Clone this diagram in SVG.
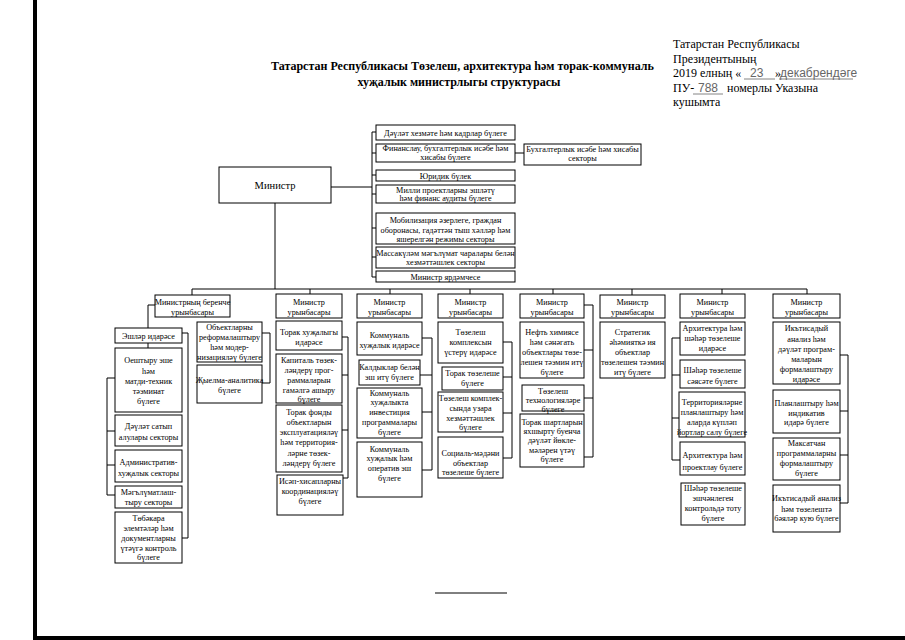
<svg xmlns="http://www.w3.org/2000/svg" width="905" height="640" viewBox="0 0 905 640">
<style>
.bx{fill:#fff;stroke:#000;stroke-width:1}
.t{font-family:"Liberation Serif","Times New Roman",serif;font-size:8.2px;text-anchor:middle;fill:#000}
.ln{fill:none;stroke:#000;stroke-width:1}
.hd{font-family:"Liberation Serif","Times New Roman",serif;font-size:12px;fill:#000}
.hw{font-family:"Liberation Sans",Arial,sans-serif;font-size:12px;fill:#666}
.ti{font-family:"Liberation Serif","Times New Roman",serif;font-size:12px;font-weight:bold;fill:#000}
</style>
<rect width="905" height="640" fill="#fff"/>
<rect x="33" y="0" width="4" height="640" fill="#000"/>
<rect x="33" y="636" width="872" height="4" fill="#000"/>
<line x1="435" y1="593" x2="507" y2="593" stroke="#000" stroke-width="1"/>

<g id="title">
<text class="ti" x="271" y="70">Татарстан Республикасы Төзелеш, архитектура һәм торак-коммуналь</text>
<text class="ti" x="459" y="86" text-anchor="middle">хуҗалык министрлыгы структурасы</text>
</g>
<g id="annex">
<text class="hd" x="673" y="48">Татарстан Республикасы</text>
<text class="hd" x="673" y="63">Президентының</text>
<text class="hd" x="673" y="77">2019 елның «</text>
<text class="hw" x="750" y="77">23</text>
<text class="hd" x="775" y="77">»</text>
<text class="hw" x="780" y="77">декабрендәге</text>
<line x1="744" y1="79" x2="775" y2="79" stroke="#666" stroke-width="0.8"/>
<line x1="779" y1="79" x2="853" y2="79" stroke="#666" stroke-width="0.8"/>
<text class="hd" x="673" y="92">ПУ-</text>
<text class="hw" x="698" y="92">788</text>
<line x1="693" y1="94" x2="723" y2="94" stroke="#666" stroke-width="0.8"/>
<text class="hd" x="727" y="92">номерлы Указына</text>
<text class="hd" x="673" y="106">кушымта</text>
</g>

<g id="connectors">
<polyline class="ln" points="331,187 372,187"/>
<line class="ln" x1="372" y1="132" x2="372" y2="277"/>
<path class="ln" d="M372 132H376M372 153H376M372 175H376M372 194H376M372 228H376M372 257H376M372 277H376M515 153H524"/>
<line class="ln" x1="275" y1="203" x2="275" y2="289"/>
<line class="ln" x1="192" y1="289" x2="807" y2="289"/>
<path class="ln" d="M192 289V295M310 289V294M390 289V294M470 289V294M553 289V294M632 289V295M722 289V294M807 289V294"/>
<path class="ln" d="M155 305H148V328M148 343V348M115 378H107V495H115M107 431H115M107 465H115"/>
<path class="ln" d="M182 333H188V538H182"/>
<path class="ln" d="M262 333H270V383H262"/>
<path class="ln" d="M342 337H348V478H343M342 375H348M342 430H348"/>
<path class="ln" d="M422 338H432V470H422M420 375H432M422 412H432"/>
<path class="ln" d="M503 342H512V458H503M503 377H512M503 413H512"/>
<path class="ln" d="M584 305H593V457H584M584 350H593M584 398H593"/>
<path class="ln" d="M680 338H672V460H680M672 375H680M672 418H679"/>
<path class="ln" d="M840 355H848V503H840M840 411H848M840 455H848"/>
</g>

<g id="minister">
<rect class="bx" x="219" y="167" width="112" height="36"/>
<text class="t" x="275" y="189" style="font-size:10.5px">Министр</text>
</g>

<g id="top1"><rect class="bx" x="376" y="125" width="139" height="15"/><text class="t" x="445.5" y="135.5">Дәүләт хезмәте һәм кадрлар бүлеге</text></g>
<g id="top2"><rect class="bx" x="376" y="144" width="139" height="18"/><text class="t" x="445.5" y="151">Финанслау, бухгалтерлык исәбе һәм</text><text class="t" x="445.5" y="160">хисабы бүлеге</text></g>
<g id="top2a"><rect class="bx" x="524" y="144" width="117" height="21"/><text class="t" x="582.5" y="152">Бухгалтерлык исәбе һәм хисабы</text><text class="t" x="582.5" y="161">секторы</text></g>
<g id="top3"><rect class="bx" x="376" y="170" width="139" height="11"/><text class="t" x="445.5" y="178.5">Юридик бүлек</text></g>
<g id="top4"><rect class="bx" x="376" y="185" width="139" height="18"/><text class="t" x="445.5" y="193">Милли проектларны эшләтү</text><text class="t" x="445.5" y="201">һәм финанс аудиты бүлеге</text></g>
<g id="top5"><rect class="bx" x="376" y="213" width="139" height="31"/><text class="t" x="445.5" y="223">Мобилизация әзерлеге, граждан</text><text class="t" x="445.5" y="232.5">оборонасы, гадәттән тыш хәлләр һәм</text><text class="t" x="445.5" y="241.5">яшерелгән режимы секторы</text></g>
<g id="top6"><rect class="bx" x="376" y="247" width="139" height="21"/><text class="t" x="445.5" y="256">Массакүләм мәгълүмат чаралары белән</text><text class="t" x="445.5" y="265">хезмәттәшлек секторы</text></g>
<g id="top7"><rect class="bx" x="376" y="271" width="139" height="11"/><text class="t" x="445.5" y="280">Министр ярдәмчесе</text></g>

<g id="h1"><rect class="bx" x="155" y="295" width="75" height="22"/><text class="t" x="192.5" y="305">Министрның беренче</text><text class="t" x="192.5" y="315">урынбасары</text></g>
<g id="a1"><rect class="bx" x="115" y="328" width="67" height="15"/><text class="t" x="148.5" y="339">Эшләр идарәсе</text></g>
<g id="a2"><rect class="bx" x="115" y="348" width="67" height="64"/><text class="t" x="148.5" y="363">Оештыру эше</text><text class="t" x="148.5" y="374">һәм</text><text class="t" x="148.5" y="384">матди-техник</text><text class="t" x="148.5" y="394">тәэминат</text><text class="t" x="148.5" y="404">бүлеге</text></g>
<g id="a3"><rect class="bx" x="115" y="415" width="67" height="31"/><text class="t" x="148.5" y="429">Дәүләт сатып</text><text class="t" x="148.5" y="440">алулары секторы</text></g>
<g id="a4"><rect class="bx" x="115" y="450" width="67" height="32"/><text class="t" x="148.5" y="465">Административ-</text><text class="t" x="148.5" y="476">хуҗалык секторы</text></g>
<g id="a5"><rect class="bx" x="115" y="486" width="67" height="22"/><text class="t" x="148.5" y="495">Мәгълүматлаш-</text><text class="t" x="148.5" y="505">тыру секторы</text></g>
<g id="a6"><rect class="bx" x="115" y="512" width="67" height="51"/><text class="t" x="148.5" y="521">Төбәкара</text><text class="t" x="148.5" y="531">элемтәләр һәм</text><text class="t" x="148.5" y="541">документларны</text><text class="t" x="148.5" y="551">үтәүгә контроль</text><text class="t" x="148.5" y="560">бүлеге</text></g>
<g id="b1"><rect class="bx" x="197" y="322" width="65" height="40"/><text class="t" x="229.5" y="330">Объектларны</text><text class="t" x="229.5" y="340">реформалаштыру</text><text class="t" x="229.5" y="350">һәм модер-</text><text class="t" x="229.5" y="360">низацияләү бүлеге</text></g>
<g id="b2"><rect class="bx" x="197" y="365" width="65" height="38"/><text class="t" x="229.5" y="383">Җыелма-аналитика</text><text class="t" x="229.5" y="393">бүлеге</text></g>

<g id="h2"><rect class="bx" x="276" y="294" width="66" height="24"/><text class="t" x="309" y="305">Министр</text><text class="t" x="309" y="315">урынбасары</text></g>
<g id="c1"><rect class="bx" x="276" y="321" width="66" height="29"/><text class="t" x="309" y="335">Торак хуҗалыгы</text><text class="t" x="309" y="345">идарәсе</text></g>
<g id="c2"><rect class="bx" x="276" y="354" width="66" height="49"/><text class="t" x="309" y="363">Капиталь төзек-</text><text class="t" x="309" y="373">ләндерү прог-</text><text class="t" x="309" y="383">раммаларын</text><text class="t" x="309" y="393">гамәлгә ашыру</text><text class="t" x="309" y="402">бүлеге</text></g>
<g id="c3"><rect class="bx" x="276" y="405" width="66" height="67"/><text class="t" x="309" y="415">Торак фонды</text><text class="t" x="309" y="425">объектларын</text><text class="t" x="309" y="435">эксплуатацияләү</text><text class="t" x="309" y="445">һәм территория-</text><text class="t" x="309" y="456">ләрне төзек-</text><text class="t" x="309" y="466">ләндерү бүлеге</text></g>
<g id="c4"><rect class="bx" x="277" y="475" width="66" height="40"/><text class="t" x="310" y="484">Исәп-хисапларны</text><text class="t" x="310" y="494">координацияләү</text><text class="t" x="310" y="504">бүлеге</text></g>

<g id="h3"><rect class="bx" x="357" y="294" width="65" height="24"/><text class="t" x="389.5" y="305">Министр</text><text class="t" x="389.5" y="315">урынбасары</text></g>
<g id="d1"><rect class="bx" x="357" y="322" width="65" height="33"/><text class="t" x="389.5" y="338">Коммуналь</text><text class="t" x="389.5" y="348">хуҗалык идарәсе</text></g>
<g id="d2"><rect class="bx" x="359" y="360" width="61" height="25"/><text class="t" x="389.5" y="370">Калдыклар белән</text><text class="t" x="389.5" y="380">эш итү бүлеге</text></g>
<g id="d3"><rect class="bx" x="357" y="388" width="65" height="50"/><text class="t" x="389.5" y="396">Коммуналь</text><text class="t" x="389.5" y="405">хуҗалыкта</text><text class="t" x="389.5" y="415">инвестиция</text><text class="t" x="389.5" y="425">программалары</text><text class="t" x="389.5" y="435">бүлеге</text></g>
<g id="d4"><rect class="bx" x="357" y="442" width="65" height="55"/><text class="t" x="389.5" y="452">Коммуналь</text><text class="t" x="389.5" y="461">хуҗалык һәм</text><text class="t" x="389.5" y="471">оператив эш</text><text class="t" x="389.5" y="481">бүлеге</text></g>

<g id="h4"><rect class="bx" x="438" y="294" width="65" height="24"/><text class="t" x="470.5" y="305">Министр</text><text class="t" x="470.5" y="315">урынбасары</text></g>
<g id="e1"><rect class="bx" x="438" y="322" width="65" height="41"/><text class="t" x="470.5" y="335">Төзелеш</text><text class="t" x="470.5" y="345">комплексын</text><text class="t" x="470.5" y="355">үстерү идарәсе</text></g>
<g id="e2"><rect class="bx" x="442" y="367" width="61" height="23"/><text class="t" x="472.5" y="376">Торак төзелеше</text><text class="t" x="472.5" y="386">бүлеге</text></g>
<g id="e3"><rect class="bx" x="438" y="392" width="65" height="40"/><text class="t" x="470.5" y="401">Төзелеш комплек-</text><text class="t" x="470.5" y="411">сында узара</text><text class="t" x="470.5" y="421">хезмәттәшлек</text><text class="t" x="470.5" y="430">бүлеге</text></g>
<g id="e4"><rect class="bx" x="438" y="437" width="65" height="41"/><text class="t" x="470.5" y="456">Социаль-мәдәни</text><text class="t" x="470.5" y="466">объектлар</text><text class="t" x="470.5" y="475">төзелеше бүлеге</text></g>

<g id="h5"><rect class="bx" x="520" y="294" width="64" height="24"/><text class="t" x="552" y="305">Министр</text><text class="t" x="552" y="315">урынбасары</text></g>
<g id="f1"><rect class="bx" x="520" y="322" width="64" height="56"/><text class="t" x="552" y="335">Нефть химиясе</text><text class="t" x="552" y="345">һәм сәнәгать</text><text class="t" x="552" y="355">объектлары төзе-</text><text class="t" x="552" y="365">лешен тәэмин итү</text><text class="t" x="552" y="375">бүлеге</text></g>
<g id="f2"><rect class="bx" x="522" y="385" width="62" height="26"/><text class="t" x="553" y="394">Төзелеш</text><text class="t" x="553" y="403">технологияләре</text><text class="t" x="553" y="412">бүлеге</text></g>
<g id="f3"><rect class="bx" x="520" y="414" width="64" height="53"/><text class="t" x="552" y="425">Торак шартларын</text><text class="t" x="552" y="434">яхшырту буенча</text><text class="t" x="552" y="443">дәүләт йөкле-</text><text class="t" x="552" y="453">мәләрен үтәү</text><text class="t" x="552" y="462">бүлеге</text></g>

<g id="h6"><rect class="bx" x="600" y="295" width="65" height="23"/><text class="t" x="632.5" y="305">Министр</text><text class="t" x="632.5" y="315">урынбасары</text></g>
<g id="g1"><rect class="bx" x="600" y="322" width="65" height="56"/><text class="t" x="632.5" y="335">Стратегик</text><text class="t" x="632.5" y="345">әһәмияткә ия</text><text class="t" x="632.5" y="355">объектлар</text><text class="t" x="632.5" y="365">төзелешен тәэмин</text><text class="t" x="632.5" y="375">итү бүлеге</text></g>

<g id="h7"><rect class="bx" x="680" y="294" width="65" height="24"/><text class="t" x="712.5" y="305">Министр</text><text class="t" x="712.5" y="315">урынбасары</text></g>
<g id="i1"><rect class="bx" x="680" y="322" width="65" height="33"/><text class="t" x="712.5" y="331">Архитектура һәм</text><text class="t" x="712.5" y="341">шәһәр төзелеше</text><text class="t" x="712.5" y="351">идарәсе</text></g>
<g id="i2"><rect class="bx" x="680" y="360" width="65" height="28"/><text class="t" x="712.5" y="373">Шәһәр төзелеше</text><text class="t" x="712.5" y="384">сәясәте бүлеге</text></g>
<g id="i3"><rect class="bx" x="679" y="392" width="66" height="45"/><text class="t" x="712" y="405">Территорияләрне</text><text class="t" x="712" y="415">планлаштыру һәм</text><text class="t" x="712" y="425">аларда күпләп</text><text class="t" x="712" y="435">йортлар салу бүлеге</text></g>
<g id="i4"><rect class="bx" x="680" y="442" width="65" height="33"/><text class="t" x="712.5" y="458">Архитектура һәм</text><text class="t" x="712.5" y="470">проектлау бүлеге</text></g>
<g id="i5"><rect class="bx" x="681" y="483" width="64" height="42"/><text class="t" x="713" y="491">Шәһәр төзелеше</text><text class="t" x="713" y="501">эшчәнлеген</text><text class="t" x="713" y="511">контрольдә тоту</text><text class="t" x="713" y="521">бүлеге</text></g>

<g id="h8"><rect class="bx" x="773" y="294" width="67" height="24"/><text class="t" x="806.5" y="305">Министр</text><text class="t" x="806.5" y="315">урынбасары</text></g>
<g id="j1"><rect class="bx" x="773" y="322" width="67" height="62"/><text class="t" x="806.5" y="331">Икътисадый</text><text class="t" x="806.5" y="342">анализ һәм</text><text class="t" x="806.5" y="352">дәүләт програм-</text><text class="t" x="806.5" y="362">маларын</text><text class="t" x="806.5" y="372">формалаштыру</text><text class="t" x="806.5" y="382">идарәсе</text></g>
<g id="j2"><rect class="bx" x="773" y="390" width="67" height="43"/><text class="t" x="806.5" y="406">Планлаштыру һәм</text><text class="t" x="806.5" y="416">индикатив</text><text class="t" x="806.5" y="425">идарә бүлеге</text></g>
<g id="j3"><rect class="bx" x="773" y="438" width="67" height="42"/><text class="t" x="806.5" y="446">Максатчан</text><text class="t" x="806.5" y="456">программаларны</text><text class="t" x="806.5" y="466">формалаштыру</text><text class="t" x="806.5" y="476">бүлеге</text></g>
<g id="j4"><rect class="bx" x="773" y="485" width="67" height="47"/><text class="t" x="806.5" y="501">Икътисадый анализ</text><text class="t" x="806.5" y="512">һәм төзелештә</text><text class="t" x="806.5" y="521">бәяләр кую бүлеге</text></g>
</svg>
